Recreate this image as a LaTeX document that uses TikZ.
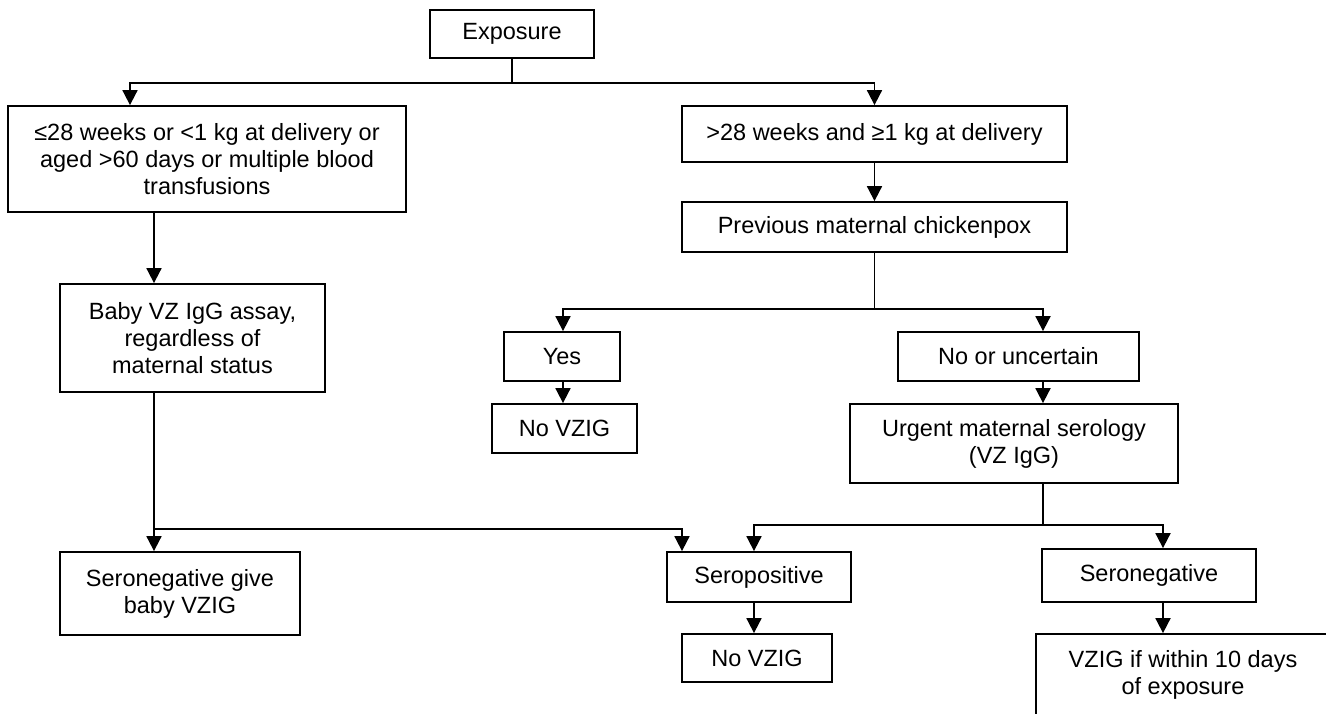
\documentclass[tikz,border=0pt]{standalone}
\usepackage{fontspec}
\setmainfont{Liberation Sans}
\usetikzlibrary{arrows.meta}
\begin{document}
\begin{tikzpicture}[x=1pt,y=-1pt,
  box/.style={draw=black, line width=1.8pt, inner sep=0pt, align=center,
    font=\fontsize{23.5}{27}\selectfont},
  arr/.style={draw=black, line width=1.8pt, -{Triangle[width=15pt,length=15pt]}}]
\clip (0,0) rectangle (1326,713);
\fill[white] (0,0) rectangle (1326,713);
% boxes
\node[box, minimum width=164pt, minimum height=48pt] (exp) at (512,34) {Exposure};
\node[box, minimum width=398pt, minimum height=106pt] (low) at (207,159) {≤28 weeks or <1 kg at delivery or\\aged >60 days or multiple blood\\transfusions};
\node[box, minimum width=385pt, minimum height=56pt] (high) at (874.5,134) {>28 weeks and ≥1 kg at delivery};
\node[box, minimum width=385pt, minimum height=50pt] (prev) at (874.5,227) {Previous maternal chickenpox};
\node[box, minimum width=265pt, minimum height=108pt] (baby) at (192.5,338) {Baby VZ IgG assay,\\regardless of\\maternal status};
\node[box, minimum width=116pt, minimum height=49pt] (yes) at (562,356.5) {Yes};
\node[box, minimum width=241pt, minimum height=49pt] (nou) at (1018.5,356.5) {No or uncertain};
\node[box, minimum width=145pt, minimum height=49pt] (novzigA) at (564.5,428.5) {No VZIG};
\node[box, minimum width=328pt, minimum height=79pt] (urg) at (1014,443.5) {Urgent maternal serology\\(VZ IgG)};
\node[box, minimum width=240pt, minimum height=83pt] (sgive) at (180,593.5) {Seronegative give\\baby VZIG};
\node[box, minimum width=184pt, minimum height=50pt] (spos) at (759,577) {Seropositive};
\node[box, minimum width=214pt, minimum height=53pt] (sneg) at (1149,575.5) {Seronegative};
\node[box, minimum width=150pt, minimum height=48pt] (novzigB) at (757,658) {No VZIG};
\node[box, minimum width=294pt, minimum height=82pt] (vzig) at (1183,675) {VZIG if within 10 days\\of exposure};
% column coordinates
\coordinate (cE) at (130,0);
\coordinate (cA) at (154,0);
\coordinate (cG) at (563,0);
\coordinate (cF) at (682,0);
\coordinate (cC) at (754,0);
\coordinate (cB) at (1043,0);
\coordinate (cD) at (1163,0);
% connectors
\draw[arr] (exp.south) -- ++(0,24) -| (low.north -| cE);
\draw[arr] (exp.south) -- ++(0,24) -| (high.north);
\draw[arr] (low.south -| cA) -- (baby.north -| cA);
\draw[arr] (high) -- (prev);
\draw[arr] (prev.south) -- ++(0,56) -| (yes.north -| cG);
\draw[arr] (prev.south) -- ++(0,56) -| (nou.north -| cB);
\draw[arr] (yes.south -| cG) -- (novzigA.north -| cG);
\draw[arr] (nou.south -| cB) -- (urg.north -| cB);
\draw[arr] (urg.south -| cB) -- ++(0,41) -| (spos.north -| cC);
\draw[arr] (urg.south -| cB) -- ++(0,41) -| (sneg.north -| cD);
\draw[arr] (baby.south -| cA) -- (sgive.north -| cA);
\draw[arr] (baby.south -| cA) -- ++(0,136) -| (spos.north -| cF);
\draw[arr] (spos.south -| cC) -- (novzigB.north -| cC);
\draw[arr] (sneg.south -| cD) -- (vzig.north -| cD);
\end{tikzpicture}
\end{document}
